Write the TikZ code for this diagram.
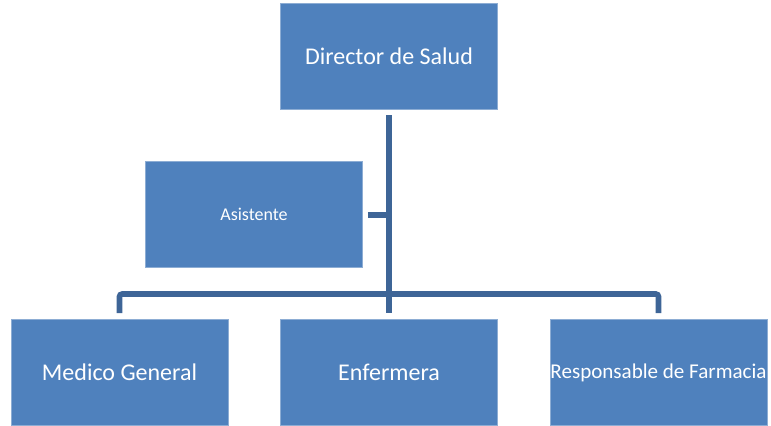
\documentclass[tikz,border=0pt]{standalone}
\usepackage{fontspec}
\setmainfont{Carlito}
\definecolor{boxblue}{HTML}{4F81BD}
\definecolor{lineblue}{HTML}{3E6597}

\begin{document}
\begin{tikzpicture}[x=0.75pt, y=-0.75pt]
\tikzstyle{puesto}=[draw=boxblue!65!white, line width=0.6pt, fill=boxblue, text=white,
  minimum width=162.75pt, minimum height=79.5pt, inner sep=0pt, font=\fontsize{18}{22}\selectfont];
\tikzstyle{enlace}=[draw=lineblue, line width=4.2pt, shorten <=4.5pt, shorten >=4.5pt];
\useasboundingbox (0,0) rectangle (771,425);
\path (389,56) node[puesto] (dir) {Director de Salud};
\path (254,214.7) node[puesto, font=\fontsize{13.5}{16}\selectfont] (asi) {Asistente};
\foreach \n/\x/\t/\s in {med/119.5/Medico General/18, enf/389/Enfermera/18, farm/658.5/Responsable de Farmacia/15.8}
{
\path (\x,372.5) node[puesto, font=\fontsize{\s}{20}\selectfont] (\n) {\t};
}
\coordinate (bar) at (389,294);
\draw[enlace] (dir) -- (enf);
\draw[enlace, shorten >=0pt, shorten <=3.75pt] (asi) -- (asi -| dir);
\draw[enlace, rounded corners=2pt] (med) |- (bar) -| (farm);
\end{tikzpicture}
\end{document}
